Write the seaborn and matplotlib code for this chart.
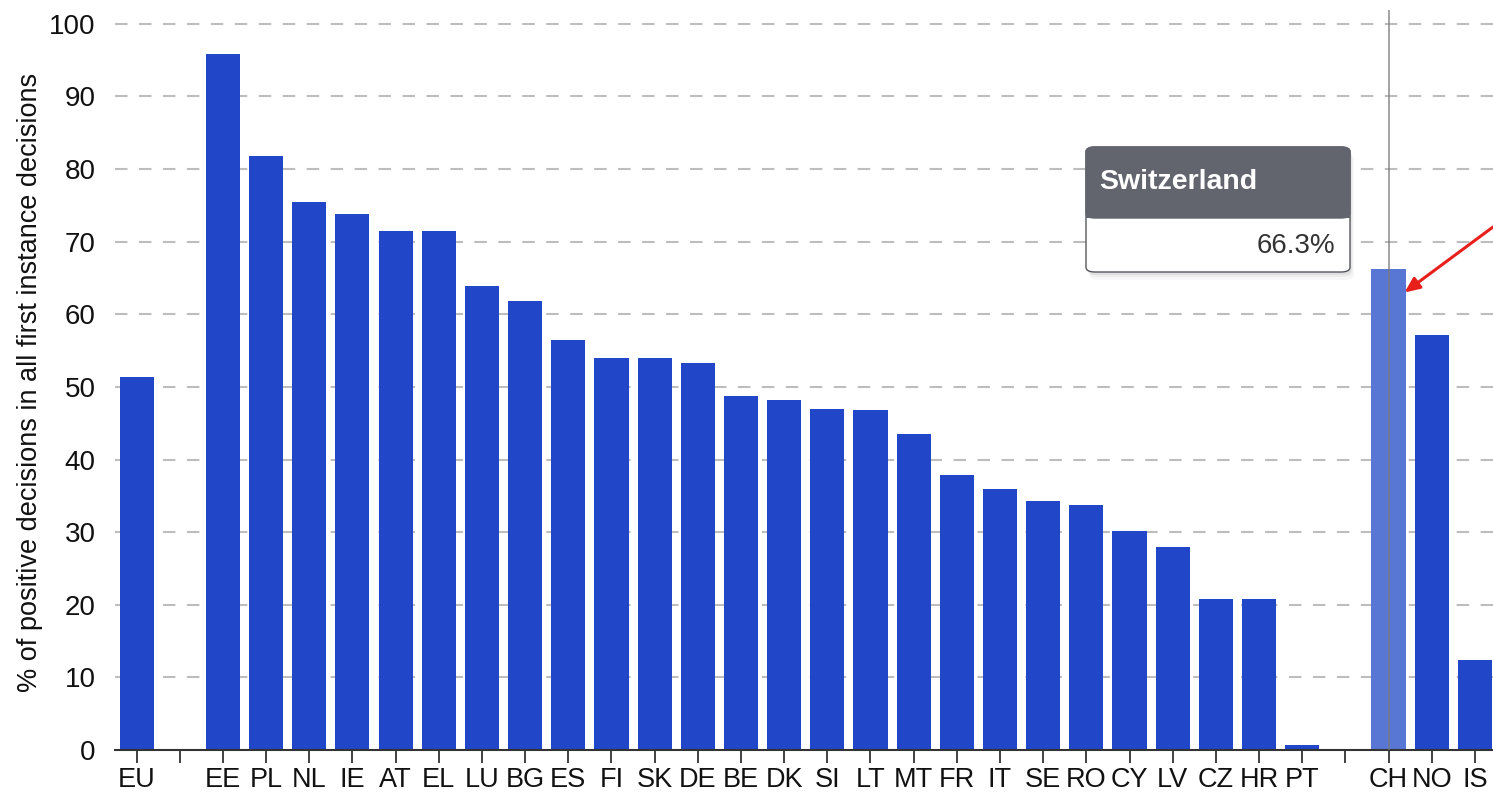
import numpy as np
import pandas as pd
import seaborn as sns
import matplotlib.pyplot as plt
from matplotlib.patches import FancyBboxPatch, Rectangle

# categories, with two blank slots used as spacers
categories = ["EU", "gap1", "EE", "PL", "NL", "IE", "AT", "EL", "LU", "BG", "ES",
              "FI", "SK", "DE", "BE", "DK", "SI", "LT", "MT", "FR", "IT", "SE",
              "RO", "CY", "LV", "CZ", "HR", "PT", "gap2", "CH", "NO", "IS"]
values = [51.4, np.nan, 95.9, 81.8, 75.4, 73.8, 71.5, 71.5, 63.9, 61.8, 56.4,
          54.0, 54.0, 53.3, 48.8, 48.2, 46.9, 46.8, 43.5, 37.8, 35.9, 34.3,
          33.8, 30.2, 28.0, 20.8, 20.8, 0.7, np.nan, 66.3, 57.1, 12.4]
tick_labels = ["" if c.startswith("gap") else c for c in categories]
highlight = "CH"
tooltip_title = "Switzerland"
tooltip_value = "66.3%"

W, H = 1493, 794
fig = plt.figure(figsize=(W / 100, H / 100), dpi=100)
plt.rcParams['font.family'] = ['Liberation Sans', 'DejaVu Sans']

# axes placement in pixels
ax_left, ax_bottom, ax_top = 115, 750, 10
ax = fig.add_axes([ax_left / W, 1 - ax_bottom / H, 1 - ax_left / W, (ax_bottom - ax_top) / H])

df = pd.DataFrame({"country": categories, "value": values})
base = "#2146c7"
palette = {c: ("#5877d5" if c == highlight else base) for c in categories}
sns.barplot(data=df, x="country", y="value", hue="country", order=categories,
            palette=palette, legend=False, width=0.79, saturation=1, ax=ax,
            linewidth=0, zorder=2)

ax.set_xlim(-0.5, 31.42)
ax.set_ylim(0, 101.9)
ax.set_yticks(np.arange(0, 101, 10))
ax.set_xticks(range(len(categories)))
ax.set_xticklabels(tick_labels)
ax.set_xlabel("")
ax.set_ylabel("")

# grid
for y in range(10, 101, 10):
    ax.axhline(y, color="#bdbdbd", lw=1.5, ls=(0, (6, 5.5)), zorder=1)

for s in ["top", "right", "left"]:
    ax.spines[s].set_visible(False)
ax.spines["bottom"].set_color("#333333")
ax.spines["bottom"].set_linewidth(1.5)
ax.spines["bottom"].set_zorder(3)

ax.tick_params(axis="y", length=0, pad=14, labelsize=20, labelcolor="#111111")
ax.tick_params(axis="x", length=9, width=1.3, color="#333333", pad=3,
               labelsize=19.5, labelcolor="#111111")

# crosshair on the highlighted bar
ax.axvline(categories.index(highlight), color="#7a7a7a", lw=1.3, alpha=0.75, zorder=4)

fig.text(30 / W, 1 - 382 / H, "% of positive decisions in all first instance decisions",
         rotation=90, ha="center", va="center", fontsize=19.5, color="#111111")


def fx(px):
    return px / W


def fy(py):
    return 1 - py / H


# tooltip
tx0, tx1, ty0, ty1, ty_mid = 1086, 1350, 147, 272, 218
for k, a in [(8, 0.03), (5, 0.04), (3, 0.05)]:
    fig.add_artist(FancyBboxPatch((fx(tx0 + k / 2), fy(ty1 + k)), fx(tx1 - tx0), (ty1 - ty0) / H,
                                  boxstyle="round,pad=0,rounding_size=0.006",
                                  transform=fig.transFigure, fc="#000000", ec="none",
                                  alpha=a, zorder=9))
body = FancyBboxPatch((fx(tx0), fy(ty1)), fx(tx1 - tx0), (ty1 - ty0) / H,
                      boxstyle="round,pad=0,rounding_size=0.006",
                      transform=fig.transFigure, fc="white", ec="#55575e",
                      lw=1.0, zorder=10)
fig.add_artist(body)
header = FancyBboxPatch((fx(tx0), fy(ty_mid)), fx(tx1 - tx0), (ty_mid - ty0) / H,
                        boxstyle="round,pad=0,rounding_size=0.006",
                        transform=fig.transFigure, fc="#62656e", ec="#62656e",
                        lw=1.0, zorder=11)
fig.add_artist(header)
fig.add_artist(Rectangle((fx(tx0), fy(ty_mid)), fx(tx1 - tx0), 10 / H,
                         transform=fig.transFigure, fc="#62656e", ec="none", zorder=11))
fig.text(fx(1099), fy(182), tooltip_title, ha="left", va="center", fontsize=20.5,
         fontweight="bold", color="white", zorder=12)
fig.text(fx(1335), fy(246), tooltip_value, ha="right", va="center", fontsize=20,
         color="#333333", zorder=12)

# red arrow pointing at the highlighted bar
ax.annotate("", xy=(categories.index(highlight) + 0.37, 63.0), xycoords="data",
            xytext=(1.0, fy(227)), textcoords="figure fraction",
            arrowprops=dict(arrowstyle="-|>,head_length=0.9,head_width=0.4",
                            color="#e8201c", lw=2.2, shrinkA=0, shrinkB=0),
            annotation_clip=False, zorder=13)

fig.savefig("out.png", dpi=100)
